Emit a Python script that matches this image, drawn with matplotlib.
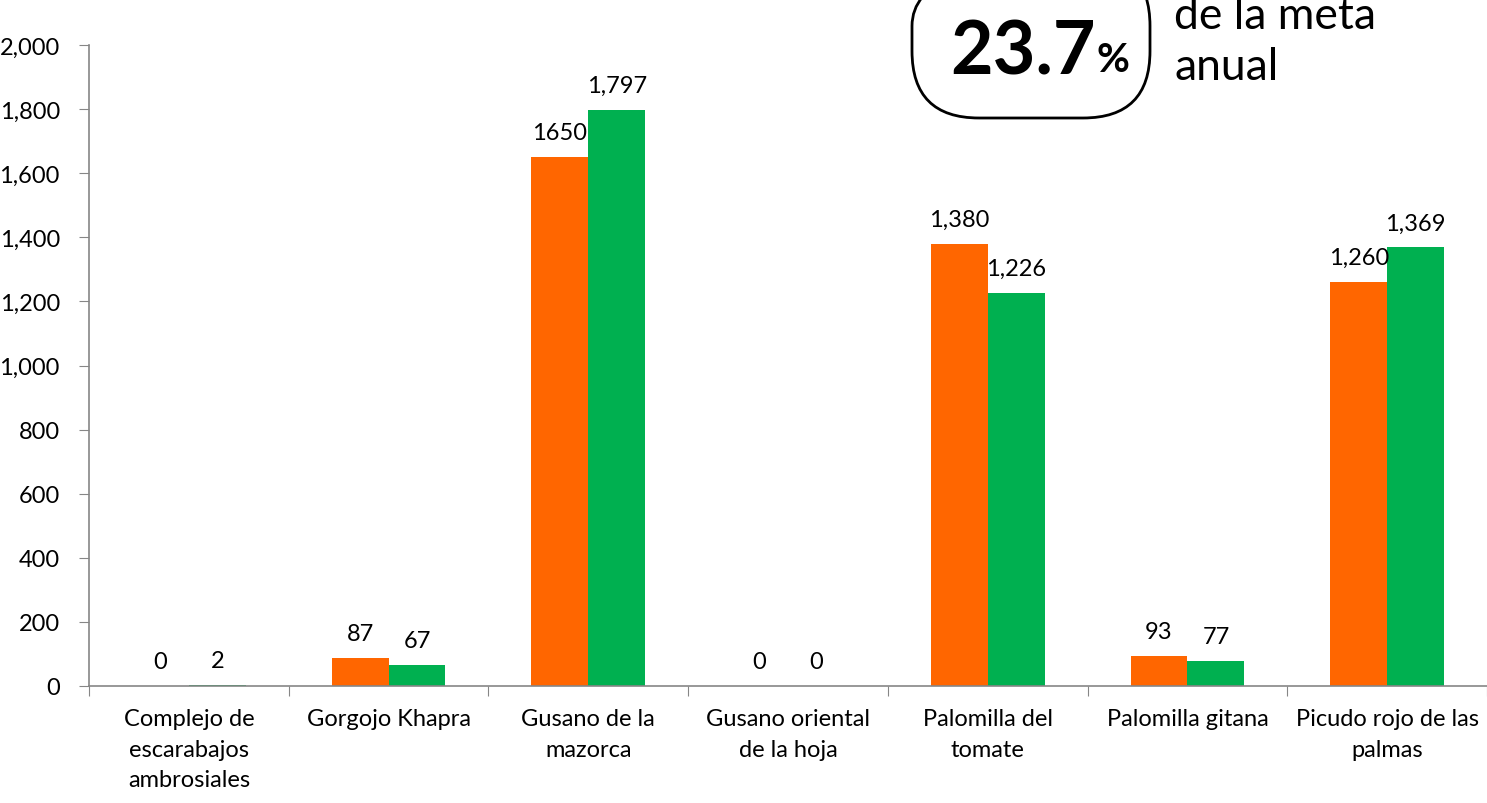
import matplotlib
matplotlib.use("Agg")
import matplotlib.pyplot as plt
from matplotlib.patches import FancyBboxPatch
import numpy as np

plt.rcParams['font.family'] = ['Lato', 'DejaVu Sans']

categories = ["Complejo de\nescarabajos\nambrosiales", "Gorgojo Khapra", "Gusano de la\nmazorca",
              "Gusano oriental\nde la hoja", "Palomilla del\ntomate", "Palomilla gitana",
              "Picudo rojo de las\npalmas"]
orange_vals = [0, 87, 1650, 0, 1380, 93, 1260]
green_vals = [2, 67, 1797, 0, 1226, 77, 1369]
orange_labels = ["0", "87", "1650", "0", "1,380", "93", "1,260"]
green_labels = ["2", "67", "1,797", "0", "1,226", "77", "1,369"]
y_ticks = [0, 200, 400, 600, 800, 1000, 1200, 1400, 1600, 1800, 2000]
y_tick_labels = ["0", "200", "400", "600", "800", "1,000", "1,200", "1,400", "1,600", "1,800", "2,000"]
big_value = "23.7"
side_text = "de la meta\nanual"

W, H = 1487, 804
fig = plt.figure(figsize=(W/100, H/100), dpi=100)
ax = fig.add_axes([89/W, 1-687/H, (1487-89)/W, (687-46)/H])

x = np.arange(len(categories))
bw = 0.285
c_or = "#FF6600"
c_gr = "#00B050"
ax.bar(x - bw/2, orange_vals, bw, color=c_or)
ax.bar(x + bw/2, green_vals, bw, color=c_gr)

fs = 17
for xi, v, lab in zip(x, orange_vals, orange_labels):
    ax.annotate(lab, (xi - bw/2, v), xytext=(0, 10), textcoords="offset points",
                ha="center", va="bottom", fontsize=fs)
for xi, v, lab in zip(x, green_vals, green_labels):
    ax.annotate(lab, (xi + bw/2, v), xytext=(0, 10), textcoords="offset points",
                ha="center", va="bottom", fontsize=fs)

ax.set_xlim(-0.5, len(categories) - 0.5)
ax.set_ylim(0, 2000)
ax.set_yticks(y_ticks)
ax.set_yticklabels(y_tick_labels, fontsize=fs)
ax.set_xticks(np.arange(len(categories) + 1) - 0.5)
ax.set_xticklabels([])
ax.set_xticks(x, minor=True)
ax.set_xticklabels(categories, minor=True, fontsize=fs, linespacing=1.55)
ax.tick_params(axis='x', which='minor', length=0, pad=16)
ax.tick_params(axis='x', which='major', length=7, color="#868686", direction='out')
ax.tick_params(axis='y', length=7, color="#868686", direction='out', pad=14)
for s in ["top", "right"]:
    ax.spines[s].set_visible(False)
for s in ["left", "bottom"]:
    ax.spines[s].set_color("#868686")
    ax.spines[s].set_linewidth(1.2)

# rounded box
bx0, bx1 = 912, 1150
by0, by1 = -40, 119
box = FancyBboxPatch((bx0/W, 1-by1/H), (bx1-bx0)/W, (by1-by0)/H,
                     boxstyle="round,pad=0,rounding_size=0.045",
                     transform=fig.transFigure, fill=False, ec="black", lw=2,
                     mutation_aspect=W/H)
fig.add_artist(box)
fig.text(1023/W, 1-53/H, big_value, fontsize=53, fontweight="bold", ha="center", va="center")
fig.text(1113/W, 1-60/H, "%", fontsize=29, fontweight="bold", ha="center", va="center")
fig.text(1174/W, 1-42/H, side_text, fontsize=32, ha="left", va="center", linespacing=1.28)

fig.savefig("out.png", dpi=100)
